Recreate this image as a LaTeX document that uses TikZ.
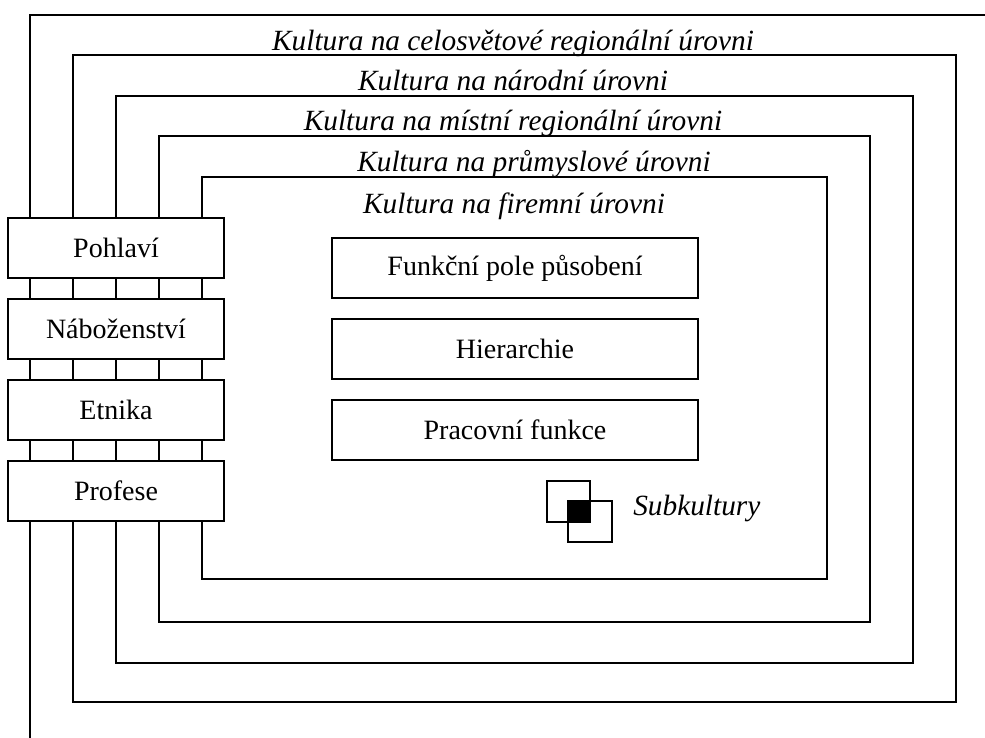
\documentclass[tikz,border=0pt]{standalone}
\usepackage{fontspec}
\setmainfont{Liberation Serif}

\begin{document}
\begin{tikzpicture}[x=0.75pt, y=-0.75pt,
  frame/.style={draw, line width=1.5pt},
  level/.style={font=\fontsize{22pt}{25pt}\selectfont\itshape, inner sep=0pt, anchor=base},
  factor/.style={draw, fill=white, line width=1.5pt, minimum width=162pt, minimum height=45pt,
    inner sep=0pt, font=\fontsize{21pt}{24pt}\selectfont},
  unit/.style={factor, minimum width=274.5pt}]
  \useasboundingbox (0,0) rectangle (985,738);

  % nested cultural levels
  \draw[frame] (30,745) -- (30,15) -- (992,15);
  \draw[frame] (73,55) rectangle (956,702);
  \draw[frame] (116,96) rectangle (913,663);
  \draw[frame] (159,136) rectangle (870,622);
  \draw[frame] (202,177) rectangle (827,579);

  % level labels
  \node[level] (world) at (513,51) {Kultura na celosvětové regionální úrovni};
  \node[level] (nation) at (513,91) {Kultura na národní úrovni};
  \node[level] (local) at (513,131) {Kultura na místní regionální úrovni};
  \node[level] (industry) at (534,172) {Kultura na průmyslové úrovni};
  \node[level] (firm) at (514,214) {Kultura na firemní úrovni};

  % cross-cutting factors
  \node[factor] (gender) at (116,247.5) {Pohlaví};
  \node[factor] (religion) at (116,328.5) {Náboženství};
  \node[factor] (ethnic) at (116,409.5) {Etnika};
  \node[factor] (profession) at (116,491) {Profese};

  % units inside the firm
  \node[unit] (field) at (515,268) {Funkční pole působení};
  \node[unit] (hier) at (515,349) {Hierarchie};
  \node[unit] (job) at (515,429.5) {Pracovní funkce};

  % subcultures symbol
  \draw[line width=1.2pt] (547,481) rectangle (590,522);
  \draw[line width=1.2pt] (568,501) rectangle (612,542);
  \fill (568,501) rectangle (590,522);
  \node[level, anchor=base west] (sub) at (633,515) {Subkultury};
\end{tikzpicture}
\end{document}
